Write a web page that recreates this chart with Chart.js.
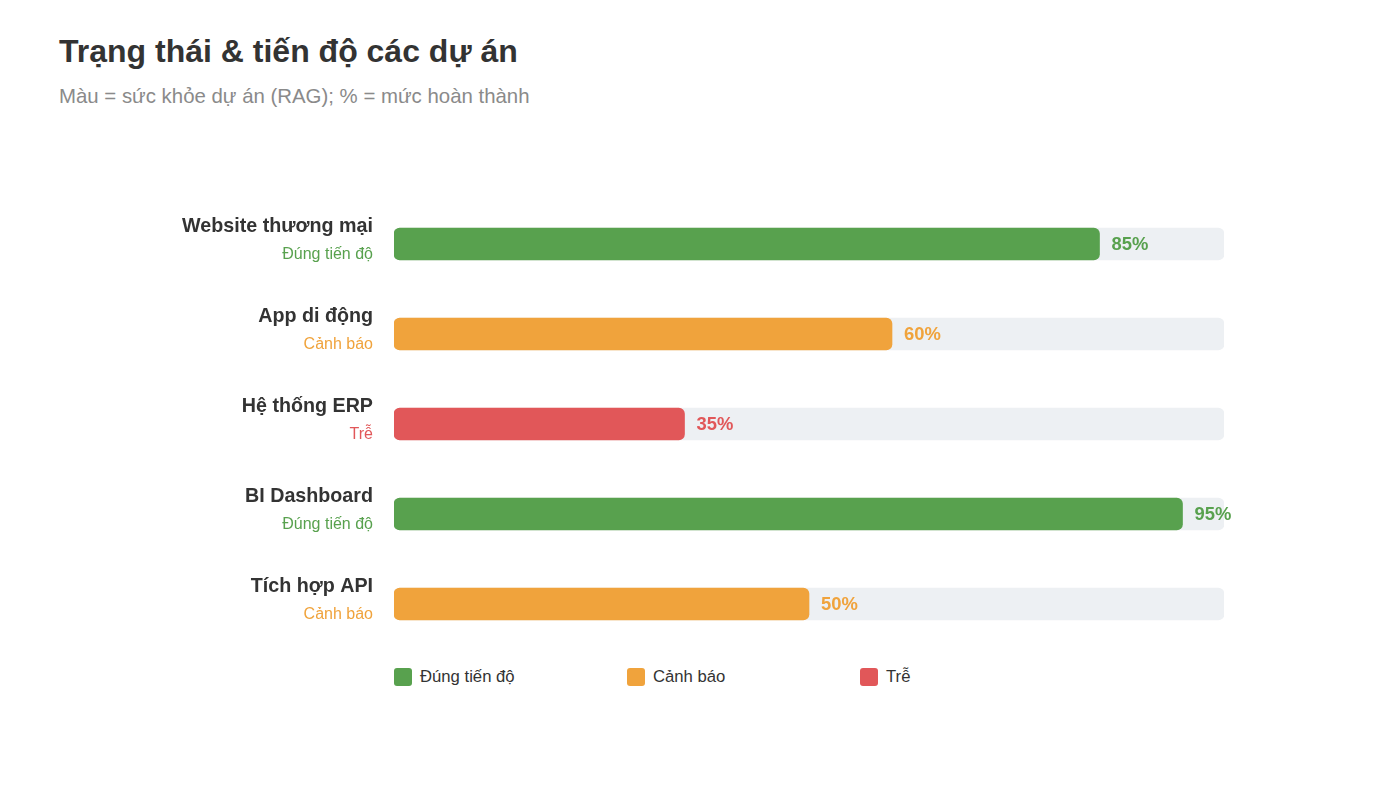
<!DOCTYPE html>
<html lang="vi">
<head>
<meta charset="utf-8">
<title>Trạng thái & tiến độ các dự án</title>
<script src="https://cdn.jsdelivr.net/npm/chart.js@4"></script>
<style>
    html, body { margin: 0; padding: 0; background: #fff; }
    body { width: 1400px; height: 787px; position: relative; overflow: hidden;
           font-family: "Liberation Sans", Arial, Helvetica, sans-serif; }
    h1 { position: absolute; left: 59px; top: 33px; margin: 0; font-size: 32px; font-weight: bold; color: #333; }
    .sub { position: absolute; left: 59px; top: 85px; margin: 0; font-size: 20.4px; color: #8a8a8a; }
    .chart-wrap { position: absolute; left: 0; top: 180px; width: 1400px; height: 480px; }
    .legend { position: absolute; left: 394px; top: 667px; display: flex; }
    .legend-item { width: 233px; display: flex; align-items: center; font-size: 16.7px; color: #333; }
    .legend-item .sw { width: 18px; height: 18px; border-radius: 3px; margin-right: 8px; }
</style>
</head>
<body>
<h1>Trạng thái &amp; tiến độ các dự án</h1>
<p class="sub">Màu = sức khỏe dự án (RAG); % = mức hoàn thành</p>
<div class="chart-wrap"><canvas id="rag"></canvas></div>
<div class="legend" id="legend"></div>

<script>
const projects = ['Website thương mại', 'App di động', 'Hệ thống ERP', 'BI Dashboard', 'Tích hợp API'];
const progress = [85, 60, 35, 95, 50];
const statusOf = ['ok', 'warn', 'late', 'ok', 'warn'];

const statusKeys   = ['ok', 'warn', 'late'];
const statusLabels = { ok: 'Đúng tiến độ', warn: 'Cảnh báo', late: 'Trễ' };
const statusColors = { ok: '#58a14e', warn: '#f0a33c', late: '#e15759' };
const trackColor   = '#edf0f3';

const FONT = '"Liberation Sans", Arial, Helvetica, sans-serif';

// nhãn hai dòng bên trái + % ở cuối thanh
const labelPlugin = {
    id: 'ragLabels',
    afterDatasetsDraw(chart) {
        const ctx  = chart.ctx;
        const y    = chart.scales.y;
        const meta = chart.getDatasetMeta(1);
        ctx.save();
        projects.forEach((name, i) => {
            const cy  = y.getPixelForValue(i);
            const col = statusColors[statusOf[i]];

            ctx.textAlign = 'right';
            ctx.textBaseline = 'alphabetic';
            ctx.fillStyle = '#333';
            ctx.font = 'bold 19.7px ' + FONT;
            ctx.fillText(name, chart.chartArea.left - 21, cy - 12);

            ctx.fillStyle = col;
            ctx.font = '16px ' + FONT;
            ctx.fillText(statusLabels[statusOf[i]], chart.chartArea.left - 21, cy + 15);

            const bar = meta.data[i];
            ctx.textAlign = 'left';
            ctx.textBaseline = 'middle';
            ctx.font = 'bold 18.4px ' + FONT;
            ctx.fillText(progress[i] + '%', bar.x + 12, cy + 1);
        });
        ctx.restore();
    }
};

new Chart(document.getElementById('rag'), {
    type: 'bar',
    data: {
        labels: projects,
        datasets: [
            {
                label: 'track',
                data: projects.map(() => 100),
                backgroundColor: trackColor,
                borderRadius: 6,
                borderSkipped: false,
                barThickness: 32,
                order: 2
            },
            {
                label: 'progress',
                data: progress,
                backgroundColor: statusOf.map(s => statusColors[s]),
                borderRadius: 6,
                borderSkipped: false,
                barThickness: 32,
                order: 1
            }
        ]
    },
    options: {
        indexAxis: 'y',
        responsive: true,
        maintainAspectRatio: false,
        animation: false,
        layout: { padding: { left: 394, right: 176, top: 19, bottom: 11 } },
        datasets: { bar: { grouped: false } },
        scales: {
            x: { display: false, min: 0, max: 100 },
            y: { display: false }
        },
        plugins: {
            legend:  { display: false },
            tooltip: { enabled: false }
        }
    },
    plugins: [labelPlugin]
});

const legend = document.getElementById('legend');
statusKeys.forEach(k => {
    const item = document.createElement('div');
    item.className = 'legend-item';
    item.innerHTML = `<span class="sw" style="background:${statusColors[k]}"></span>${statusLabels[k]}`;
    legend.appendChild(item);
});
</script>
</body>
</html>
